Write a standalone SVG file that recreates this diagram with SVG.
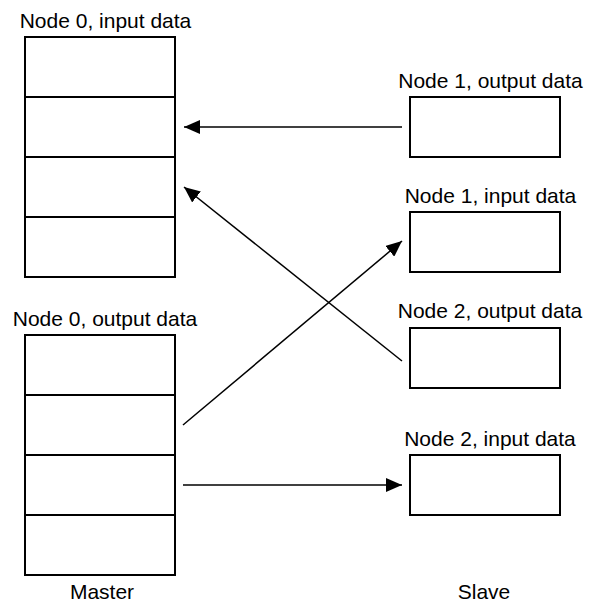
<svg xmlns="http://www.w3.org/2000/svg" width="589" height="606" viewBox="0 0 589 606">
<style>
  .box{fill:#fff;stroke:#000;stroke-width:2}
  .div{stroke:#000;stroke-width:2}
  .lbl{font-family:"Liberation Sans",Arial,sans-serif;font-size:21px;fill:#000;text-anchor:middle}
  .con{stroke:#000;stroke-width:1.5;fill:none;marker-end:url(#ah)}
</style>
<defs>
  <marker id="ah" viewBox="0 0 16 14" refX="16" refY="7" markerWidth="16" markerHeight="14" markerUnits="userSpaceOnUse" orient="auto">
    <path d="M0,0 L16,7 L0,14 Z" fill="#000"/>
  </marker>
</defs>
<rect width="589" height="606" fill="#fff"/>
<g id="master-input">
  <text class="lbl" x="105.5" y="28">Node 0, input data</text>
  <rect class="box" x="25" y="37" width="150" height="240"/>
  <line class="div" x1="25" y1="97" x2="175" y2="97"/>
  <line class="div" x1="25" y1="157" x2="175" y2="157"/>
  <line class="div" x1="25" y1="217" x2="175" y2="217"/>
</g>
<g id="master-output">
  <text class="lbl" x="105" y="326">Node 0, output data</text>
  <rect class="box" x="25" y="335" width="150" height="240"/>
  <line class="div" x1="25" y1="395" x2="175" y2="395"/>
  <line class="div" x1="25" y1="455" x2="175" y2="455"/>
  <line class="div" x1="25" y1="515" x2="175" y2="515"/>
</g>
<g id="node1-output">
  <text class="lbl" x="490.5" y="88">Node 1, output data</text>
  <rect class="box" x="410" y="97" width="150" height="60"/>
</g>
<g id="node1-input">
  <text class="lbl" x="490.5" y="203">Node 1, input data</text>
  <rect class="box" x="410" y="212" width="150" height="60"/>
</g>
<g id="node2-output">
  <text class="lbl" x="490" y="318">Node 2, output data</text>
  <rect class="box" x="410" y="328" width="150" height="60"/>
</g>
<g id="node2-input">
  <text class="lbl" x="490" y="446">Node 2, input data</text>
  <rect class="box" x="410" y="455" width="150" height="60"/>
</g>
<g id="master-label"><text class="lbl" x="102" y="599">Master</text></g>
<g id="slave-label"><text class="lbl" x="484" y="599">Slave</text></g>
<g id="connectors">
  <line class="con" x1="402" y1="127" x2="184" y2="127"/>
  <line class="con" x1="402" y1="361" x2="184" y2="187"/>
  <line class="con" x1="183" y1="425" x2="402" y2="241"/>
  <line class="con" x1="183" y1="485" x2="402" y2="485"/>
</g>
</svg>
